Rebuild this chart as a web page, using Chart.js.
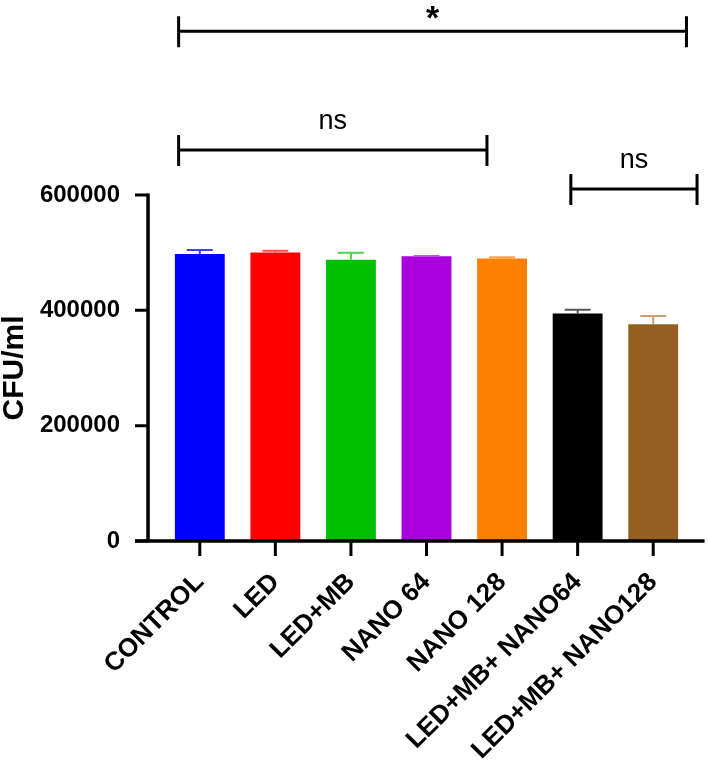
<!DOCTYPE html>
<html>
<head>
<meta charset="utf-8">
<script src="https://cdn.jsdelivr.net/npm/chart.js@4.4.1/dist/chart.umd.min.js"></script>
<style>
  html, body { margin: 0; padding: 0; background: #fff; }
  #wrap { width: 708px; height: 760px; }
</style>
</head>
<body>
<div id="wrap"><canvas id="cfuChart"></canvas></div>
<script>
const groups = ['CONTROL', 'LED', 'LED+MB', 'NANO 64', 'NANO 128', 'LED+MB+ NANO64', 'LED+MB+ NANO128']
const meanCfu = [497600, 500500, 487700, 493600, 490100, 394700, 375800]
const errCfu = [6900, 2800, 12100, 600, 1800, 6200, 14500]
const barColors = ['#0000ff', '#ff0000', '#00bf00', '#aa00dd', '#ff8000', '#000000', '#93601f']
const capColors = ['#3c3cff', '#ff5050', '#50d050', '#c050e8', '#ffa050', '#555555', '#c8a070']
const yTicks = [0, 200000, 400000, 600000]

// brackets: from / to in category units, level in CFU/ml
const brackets = [
  { from: -0.28, to: 6.44, level: 883800, text: '*', bold: true },
  { from: -0.28, to: 3.8, level: 678100, text: 'ns', bold: false },
  { from: 4.91, to: 6.58, level: 610400, text: 'ns', bold: false },
]

const FONT = 'Liberation Sans, Arial, Helvetica, sans-serif'

const extrasPlugin = {
  id: 'extras',
  afterDatasetsDraw(chart) {
    const ctx = chart.ctx
    const x = chart.scales.x
    const y = chart.scales.y
    const step = x.getPixelForValue(1) - x.getPixelForValue(0)
    const xAt = v => x.getPixelForValue(0) + v * step
    const barW = step * 0.66

    ctx.save()
    // error bars (upper only)
    meanCfu.forEach((m, i) => {
      const cx = x.getPixelForValue(i)
      const top = y.getPixelForValue(m + errCfu[i])
      const base = y.getPixelForValue(m)
      ctx.strokeStyle = capColors[i]
      ctx.lineWidth = 2
      ctx.beginPath()
      ctx.moveTo(cx, base)
      ctx.lineTo(cx, top)
      ctx.moveTo(cx - barW * 0.26, top)
      ctx.lineTo(cx + barW * 0.26, top)
      ctx.stroke()
    })

    // axes
    const y0 = y.getPixelForValue(0)
    const yMax = y.getPixelForValue(600000)
    const axisX = xAt(-0.685)
    ctx.strokeStyle = '#000'
    ctx.lineWidth = 3.5
    ctx.lineCap = 'butt'
    ctx.beginPath()
    ctx.moveTo(axisX, yMax - 1.5)
    ctx.lineTo(axisX, y0)
    ctx.moveTo(axisX - 13, y0)
    ctx.lineTo(xAt(6.68), y0)
    ctx.stroke()
    ctx.lineWidth = 3
    ctx.beginPath()
    yTicks.forEach(t => {
      const py = y.getPixelForValue(t)
      ctx.moveTo(axisX - 13, py)
      ctx.lineTo(axisX, py)
    })
    groups.forEach((g, i) => {
      const px = x.getPixelForValue(i)
      ctx.moveTo(px, y0)
      ctx.lineTo(px, y0 + 15)
    })
    ctx.stroke()

    // significance brackets
    brackets.forEach(b => {
      const x1 = xAt(b.from)
      const x2 = xAt(b.to)
      const py = y.getPixelForValue(b.level)
      ctx.strokeStyle = '#000'
      ctx.lineWidth = 3
      ctx.beginPath()
      ctx.moveTo(x1, py)
      ctx.lineTo(x2, py)
      ctx.moveTo(x1, py - 15)
      ctx.lineTo(x1, py + 16)
      ctx.moveTo(x2, py - 15)
      ctx.lineTo(x2, py + 16)
      ctx.stroke()
      ctx.fillStyle = '#000'
      ctx.textAlign = 'center'
      ctx.textBaseline = 'middle'
      if (b.bold) {
        ctx.font = 'bold 34px ' + FONT
        ctx.fillText(b.text, (x1 + x2) / 2, py - 12)
      } else {
        ctx.font = '27px ' + FONT
        ctx.fillText(b.text, (x1 + x2) / 2, py - 28)
      }
    })
    ctx.restore()
  },
}

const ctx = document.getElementById('cfuChart').getContext('2d')
const chart = new Chart(ctx, {
  type: 'bar',
  data: {
    labels: groups,
    datasets: [
      {
        label: 'CFU/ml',
        data: meanCfu,
        backgroundColor: barColors,
        borderWidth: 0,
        barPercentage: 0.66,
        categoryPercentage: 1.0,
      },
    ],
  },
  options: {
    responsive: true,
    maintainAspectRatio: false,
    animation: false,
    layout: {
      padding: { top: 195, right: 17, left: 0, bottom: 0 },
    },
    plugins: {
      legend: { display: false },
      tooltip: { enabled: false },
    },
    scales: {
      x: {
        grid: { display: false },
        border: { display: false },
        afterFit: function (scale) {
          scale.height = 219
        },
        ticks: {
          color: '#000',
          minRotation: 45,
          maxRotation: 45,
          padding: 18,
          autoSkip: false,
          font: { family: FONT, size: 26, weight: 'bold' },
        },
      },
      y: {
        min: 0,
        max: 600000,
        grid: { display: false },
        border: { display: false },
        afterFit: function (scale) {
          scale.width = 162
        },
        afterBuildTicks: function (scale) {
          scale.ticks = yTicks.map(v => ({ value: v }))
        },
        ticks: {
          color: '#000',
          padding: 34,
          font: { family: FONT, size: 24, weight: 'bold' },
          callback: function (value) {
            return String(value)
          },
        },
        title: {
          display: true,
          text: 'CFU/ml',
          color: '#000',
          padding: { top: 0, bottom: 0 },
          font: { family: FONT, size: 30, weight: 'bold', lineHeight: 1 },
        },
      },
    },
  },
  plugins: [extrasPlugin],
})
</script>
</body>
</html>
